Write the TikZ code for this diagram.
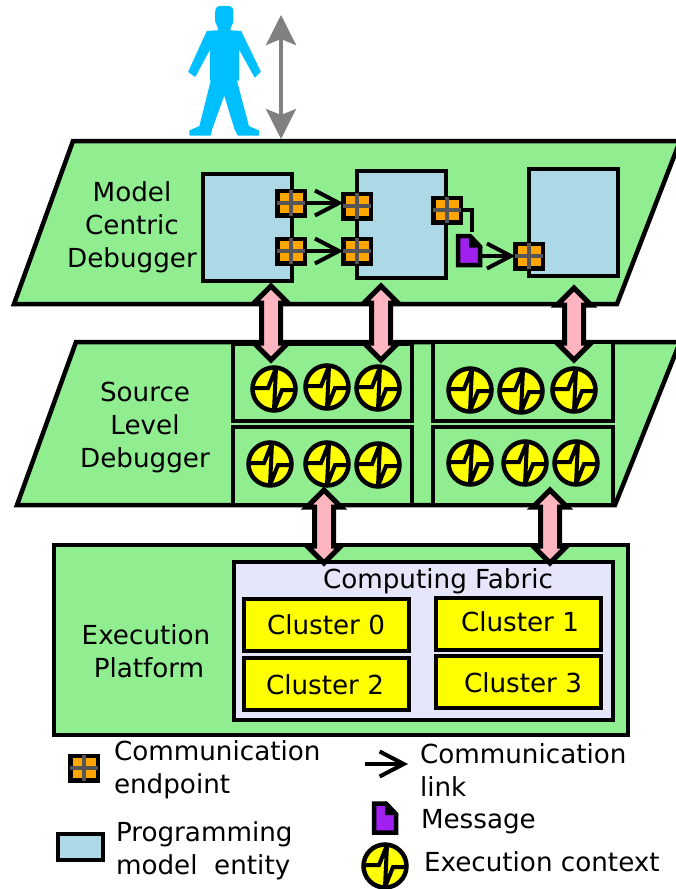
\documentclass[tikz,border=0pt]{standalone}
\usepackage{fontspec}
\setmainfont{DejaVu Sans}
\usetikzlibrary{arrows.meta}
\definecolor{planegreen}{HTML}{90EE90}
\definecolor{entityblue}{HTML}{ADD8E6}
\definecolor{endorange}{HTML}{FFA500}
\definecolor{fabric}{HTML}{E6E6FA}
\definecolor{msgpurple}{HTML}{A020F0}
\definecolor{personblue}{HTML}{00BFFF}
\definecolor{crossgray}{HTML}{555555}
\definecolor{pinkarrowfill}{HTML}{FFB6C1}
\definecolor{pureyellow}{HTML}{FFFF00}
\definecolor{midgray}{HTML}{808080}
\tikzset{
  x=1pt,y=-1pt,
  every node/.style={outer sep=0pt},
  lbl/.style={font=\fontsize{26.2}{33}\selectfont,inner sep=0pt,align=center},
  lbll/.style={font=\fontsize{26.2}{33}\selectfont,inner sep=0pt,align=left,anchor=west},
  plane/.style={draw=black,fill=planegreen,line width=4.5pt,line join=miter},
  entity/.style={draw=black,fill=entityblue,line width=4.5pt,inner sep=0pt,anchor=north west},
  ctxbox/.style={draw=black,fill=planegreen,line width=4.5pt,inner sep=0pt},
  cluster/.style={draw=black,fill=pureyellow,line width=4.5pt,inner sep=0pt,anchor=north west},
  endpt/.style={draw=black,fill=endorange,line width=4.5pt,minimum width=27.5pt,minimum height=24.5pt,inner sep=0pt},
  crossline/.style={draw=crossgray,line width=3.5pt,shorten <=-0.5pt,shorten >=-0.5pt},
  execctx/.style={circle,draw=black,fill=pureyellow,line width=4.5pt,minimum size=43pt,inner sep=0pt,
    path picture={\begin{scope}[shift={(path picture bounding box.center)}]
      \draw[black,line width=4pt,line join=miter] (-22,-1)--(-6,-1)--(2,-21)--(0,21)--(8,1)--(22,1);
    \end{scope}}},
  link/.style={draw=black,line width=4pt,-{Straight Barb[length=24pt,width=25pt,line width=4pt]}},
  pinkshape/.style={draw=black,fill=pinkarrowfill,line width=5pt,line join=miter},
  msgnode/.style={minimum width=22pt,minimum height=29pt,inner sep=0pt},
}
\newcommand{\myendpt}[2]{%
  \node[endpt] (#1) at (#2) {};
  \draw[crossline] (#1.west) -- (#1.east);
  \draw[crossline] (#1.north) -- (#1.south);}
\newcommand{\mymsg}[2]{%
  \node[msgnode] (#1) at (#2) {};
  \begin{scope}[shift={(#1.center)}]
    \draw[black,fill=msgpurple,line width=4.5pt,line join=miter] (-11,-14.5)--(1,-14.5)--(11,-4)--(11,14.5)--(-11,14.5)--cycle;
    \fill[black] (0,-17)--(13.5,-3)--(0,-3)--cycle;
  \end{scope}}
% name, centre, length
\newcommand{\mypink}[3]{%
  \node[minimum width=34pt,minimum height=#3pt,inner sep=0pt] (#1) at (#2) {};
  \begin{scope}[shift={(#1.center)}]
    \draw[pinkshape] (0,-#3/2) -- (17,-#3/2+17) -- (9.5,-#3/2+17) -- (9.5,#3/2-17) -- (17,#3/2-17)
      -- (0,#3/2) -- (-17,#3/2-17) -- (-9.5,#3/2-17) -- (-9.5,-#3/2+17) -- (-17,-#3/2+17) -- cycle;
  \end{scope}}
\begin{document}
\begin{tikzpicture}
\useasboundingbox (0,0) rectangle (675,889);
% person
\begin{scope}[shift={(180,0)},x=0.3333pt,y=-0.3333pt]
  \filldraw[personblue,line width=1.5pt,line join=round] (108,35) .. controls (108,22) and (115,20) .. (125,20) -- (142,20)
    .. controls (152,20) and (158,24) .. (158,35) -- (158,65) -- (148,88) -- (118,88) -- (108,65) -- cycle;
  \filldraw[personblue,line width=1.5pt,line join=round] (118,86) -- (148,86) -- (150,93) -- (182,95) -- (240,215) -- (225,230) -- (175,140) -- (175,240) -- (168,240)
    -- (205,380) -- (235,393) -- (235,405) -- (175,405) -- (165,385) -- (133,280) -- (95,385) -- (90,405) -- (30,405) -- (30,393)
    -- (60,380) -- (95,240) -- (92,240) -- (92,140) -- (45,228) -- (27,215) -- (82,95) -- (115,93) -- cycle;
\end{scope}
% planes
\draw[plane] (73,141) -- (680,141) -- (617,304) -- (14,304) -- cycle;
\draw[plane] (76,342) -- (680,342) -- (615,505) -- (17,505) -- cycle;
\node[lbl] (modeltxt) at (132,227) {Model\\Centric\\Debugger};
\node[lbl] (sourcetxt) at (145,427.5) {Source\\Level\\Debugger};
% gray arrow
\coordinate (guser) at (281,15);
\coordinate (gplane) at (281,139);
\draw[midgray,line width=3.5pt,{Stealth[length=30pt,width=30pt,inset=6pt]}-{Stealth[length=30pt,width=30pt,inset=6pt]}] (guser) -- (gplane);
% entities
\node[entity,minimum width=89pt,minimum height=107pt] (ent1) at (203,174) {};
\node[entity,minimum width=89pt,minimum height=107pt] (ent2) at (357,171) {};
\node[entity,minimum width=89pt,minimum height=107pt] (ent3) at (529,169) {};
% endpoints
\myendpt{ep1}{291,203}
\myendpt{ep2}{291,251}
\myendpt{ep3}{357,206}
\myendpt{ep4}{357,251}
\myendpt{ep5}{447,210}
\myendpt{ep6}{529,256}
\mymsg{msg}{469,250.5}
\draw[link] (ep1.east) -- (ep3.west |- ep1.east);
\draw[link] (ep2.east) -- (ep4.west);
\draw[draw=black,line width=4pt] (ep5.east) -- (472,210) -- (472,232);
\draw[link] (msg.east |- ep6.west) -- (ep6.west);
% context boxes
\node[ctxbox,anchor=north west,minimum width=179pt,minimum height=77pt] (cb1) at (233,344) {};
\node[ctxbox,anchor=north west,minimum width=179pt,minimum height=78pt] (cb2) at (233,427) {};
\node[ctxbox,anchor=north west,minimum width=180pt,minimum height=79pt] (cb3) at (433,342) {};
\node[ctxbox,anchor=north west,minimum width=180pt,minimum height=78pt] (cb4) at (433,427) {};
\foreach \n/\p in {a1/{274,389},a2/{327,387},a3/{378,388},b1/{270,464},b2/{327,464},b3/{378,465},
  c1/{470,390},c2/{521,391},c3/{574,390},d1/{470,463},d2/{525,463},d3/{576,463}}
  {\node[execctx] (x\n) at (\p) {};}
% platform
\node[draw=black,fill=planegreen,line width=4.5pt,inner sep=0pt,anchor=north west,minimum width=574pt,minimum height=190pt] (platform) at (54,545) {};
\node[draw=black,fill=fabric,line width=4.5pt,inner sep=0pt,anchor=north west,minimum width=379pt,minimum height=158pt] (fabricbox) at (234,562) {};
\node[lbl] (exectxt) at (146,635) {Execution};
\node[lbl] (plattxt) at (149,668) {Platform};
\node[lbl] (fabtxt) at (438,581) {Computing Fabric};
\node[cluster,minimum width=165pt,minimum height=52pt] (cl0) at (244,599) {};
\node[cluster,minimum width=165pt,minimum height=52pt] (cl1) at (436,598) {};
\node[cluster,minimum width=165pt,minimum height=52pt] (cl2) at (244,658) {};
\node[cluster,minimum width=165pt,minimum height=52pt] (cl3) at (436,656) {};
\node[lbl] (cl0txt) at (326,625) {Cluster 0};
\node[lbl] (cl1txt) at (520,622) {Cluster 1};
\node[lbl] (cl2txt) at (325,685) {Cluster 2};
\node[lbl] (cl3txt) at (523,683) {Cluster 3};
% pink arrows
\mypink{p1}{271,323}{74}
\mypink{p2}{381,323}{74}
\mypink{p3}{574,324}{72}
\mypink{p4}{324,526.5}{73}
\mypink{p5}{550,526.5}{73}
% legend
\myendpt{legep}{84,768}
\node[lbll] (legeptxt) at (114,770) {Communication\\endpoint};
\node[entity,minimum width=45pt,minimum height=26pt] (legent) at (58,834) {};
\node[lbll] (legenttxt) at (116,851) {Programming\\model\ \ entity};
\coordinate (lega) at (365,764);
\coordinate (legb) at (408,764);
\draw[link] (lega) -- (legb);
\node[lbll] (leglinktxt) at (420,770) {Communication\\link};
\mymsg{legmsg}{385,818}
\node[lbll] (legmsgtxt) at (421,822) {Message};
\node[execctx] (legx) at (385,866) {};
\node[lbll] (legxtxt) at (424,861.5) {Execution context};
\end{tikzpicture}
\end{document}
